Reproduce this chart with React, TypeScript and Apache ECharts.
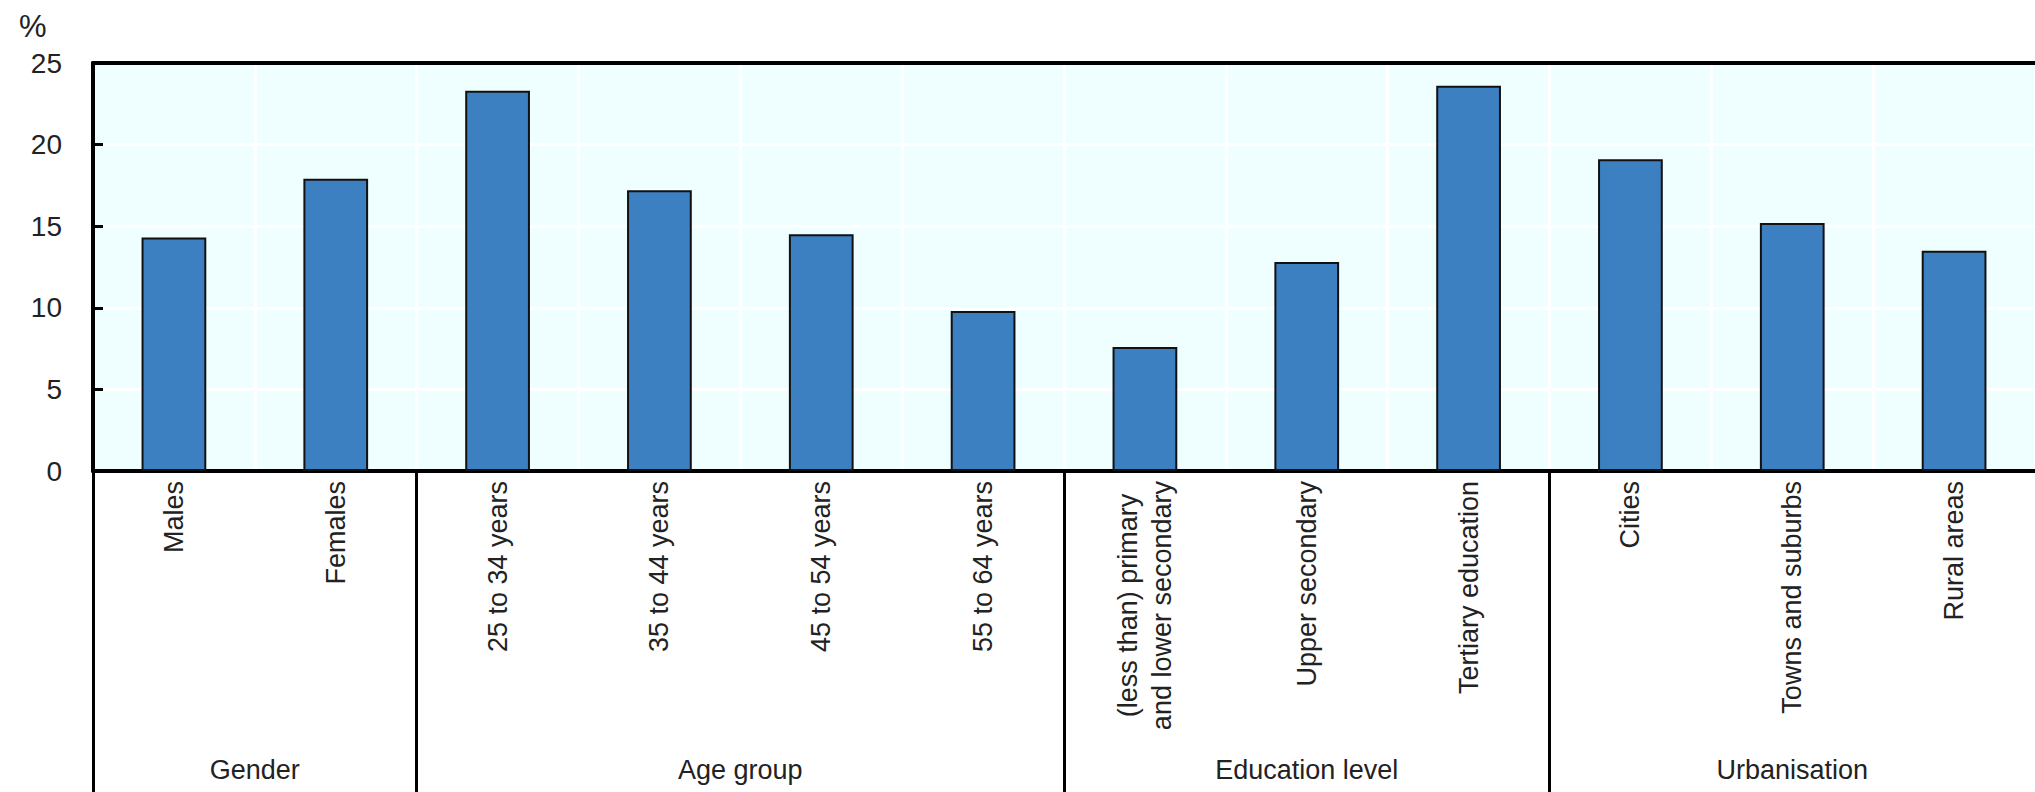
import React, { useEffect, useRef } from "react";
import * as echarts from "echarts";

const categories = [
  "Males",
  "Females",
  "25 to 34 years",
  "35 to 44 years",
  "45 to 54 years",
  "55 to 64 years",
  "(less than) primary\nand lower secondary",
  "Upper secondary",
  "Tertiary education",
  "Cities",
  "Towns and suburbs",
  "Rural areas",
];
const values = [14.3, 17.9, 23.3, 17.2, 14.5, 9.8, 7.6, 12.8, 23.6, 19.1, 15.2, 13.5];
const groups = ["Gender", "Age group", "Education level", "Urbanisation"];
const groupSizes = [2, 4, 3, 3];
const yMin = 0;
const yMax = 25;
const yInterval = 5;

const FONT = "'Liberation Sans Narrow', 'Arial Narrow', 'Liberation Sans', Arial, sans-serif";

export default function App() {
  const ref = useRef<HTMLDivElement>(null);
  useEffect(() => {
    document.body.style.margin = "0";
    if (!ref.current) return;
    const chart = echarts.init(ref.current, null, { renderer: "svg" });

    const boundaries: number[] = [0];
    const centers: number[] = [];
    let acc = 0;
    groupSizes.forEach((s) => {
      centers.push(acc + s / 2);
      acc += s;
      boundaries.push(acc);
    });
    const groupLabelAt: Record<string, string> = {};
    centers.forEach((c, i) => (groupLabelAt[String(c)] = groups[i]));

    const labelStyle = { fontFamily: FONT, fontSize: 27, lineHeight: 34, color: "#222", align: "center" };

    chart.setOption({
      animation: false,
      backgroundColor: "#ffffff",
      title: {
        text: "%",
        left: 14,
        top: 6,
        textStyle: { fontFamily: FONT, fontSize: 31, fontWeight: "normal", color: "#222" },
      },
      grid: {
        left: 93,
        top: 63,
        right: 0,
        bottom: 321,
        show: true,
        backgroundColor: "#EFFEFE",
        borderWidth: 0,
      },
      xAxis: [
        {
          type: "category",
          data: categories,
          boundaryGap: true,
          z: 0,
          axisLine: { show: true, lineStyle: { color: "#000", width: 4 } },
          axisTick: { show: false },
          splitLine: { show: true, interval: 0, lineStyle: { color: "#ffffff", width: 3 } },
          axisLabel: {
            interval: 0,
            rotate: 90,
            margin: 10,
            fontFamily: FONT,
            fontSize: 27,
            lineHeight: 34,
            color: "#222",
            formatter: (v: string) =>
              v
                .split("\n")
                .map((line) => "{c|" + line + "}")
                .join("\n"),
            rich: { c: labelStyle },
          },
        },
        {
          type: "value",
          min: 0,
          max: categories.length,
          position: "bottom",
          axisLine: { show: false },
          splitLine: { show: false },
          axisTick: {
            show: true,
            customValues: boundaries.slice(0, boundaries.length - 1),
            length: 330,
            lineStyle: { color: "#000", width: 3 },
          },
          axisLabel: {
            show: true,
            customValues: centers,
            margin: 285,
            fontFamily: FONT,
            fontSize: 27,
            color: "#222",
            formatter: (v: number) => groupLabelAt[String(v)] || "",
          },
        },
        {
          type: "category",
          data: categories,
          position: "top",
          z: 6,
          axisLine: { show: true, lineStyle: { color: "#000", width: 4 } },
          axisTick: { show: false },
          axisLabel: { show: false },
          splitLine: { show: false },
        },
      ],
      yAxis: [
        {
          type: "value",
          min: yMin,
          max: yMax,
          interval: yInterval,
          z: 6,
          axisLine: { show: true, lineStyle: { color: "#000", width: 4 } },
          axisTick: { show: true, inside: true, length: 10, lineStyle: { color: "#000", width: 3 } },
          splitLine: { show: false },
          axisLabel: { fontFamily: FONT, fontSize: 28, color: "#222", margin: 31 },
        },
        {
          type: "value",
          min: yMin,
          max: yMax,
          interval: yInterval,
          position: "left",
          z: 0,
          axisLine: { show: false },
          axisTick: { show: false },
          axisLabel: { show: false },
          splitLine: { show: true, lineStyle: { color: "#ffffff", width: 3 } },
        },
      ],
      series: [
        {
          type: "bar",
          xAxisIndex: 0,
          yAxisIndex: 0,
          data: values,
          barWidth: "40%",
          itemStyle: { color: "#3C80C1", borderColor: "#111", borderWidth: 2 },
          z: 4,
        },
      ],
    });
    return () => chart.dispose();
  }, []);
  return <div ref={ref} style={{ width: 2035, height: 792 }} />;
}
